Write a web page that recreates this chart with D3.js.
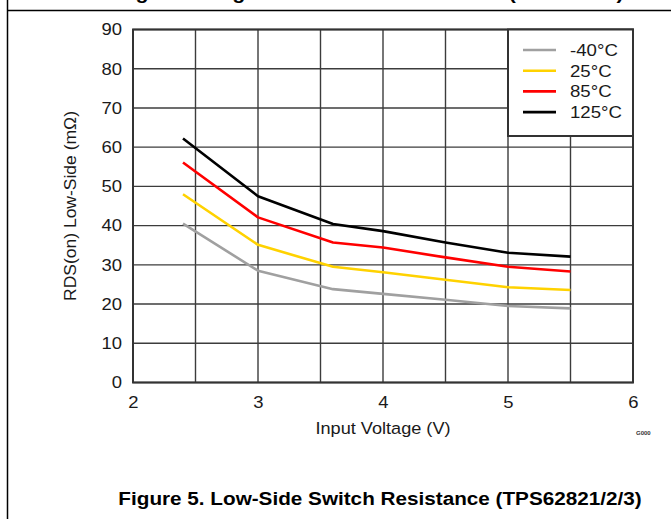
<!DOCTYPE html>
<html>
<head>
<meta charset="utf-8">
<script src="https://cdn.jsdelivr.net/npm/d3@7"></script>
<style>
  html, body { margin: 0; padding: 0; background: #fff; }
  svg { display: block; font-family: "Liberation Sans", Arial, sans-serif; }
</style>
</head>
<body>
<svg id="chart" width="671" height="519"></svg>
<script>
// Input voltage sample points (V)
const inputVoltage = [2.4, 3.0, 3.6, 4.0, 4.5, 5.0, 5.5];

// Low-side switch RDS(on) in mΩ per temperature
const rdsMinus40 = [40.5, 28.5, 23.8, 22.6, 21.1, 19.5, 18.9];
const rds25      = [48.0, 35.1, 29.5, 28.1, 26.2, 24.3, 23.6];
const rds85      = [56.1, 42.1, 35.7, 34.4, 31.9, 29.5, 28.3];
const rds125     = [62.2, 47.5, 40.4, 38.6, 35.7, 33.1, 32.1];

const seriesNames  = ["-40°C", "25°C", "85°C", "125°C"];
const seriesColors = ["#a0a0a0", "#ffd200", "#ff0000", "#000000"];
const seriesValues = [rdsMinus40, rds25, rds85, rds125];

const xTicks = [2, 3, 4, 5, 6];
const yTicks = [0, 10, 20, 30, 40, 50, 60, 70, 80, 90];
const xGrid  = [2, 2.5, 3, 3.5, 4, 4.5, 5, 5.5, 6];

const svg = d3.select("#chart");

// text helper with a slightly widened face
function label(parent, x, y, str, size, sx, anchor, extra) {
  const t = parent.append("text")
    .attr("transform", `translate(${x},${y}) scale(${sx},1)`)
    .attr("text-anchor", anchor || "start")
    .attr("font-size", size)
    .attr("fill", "#1a1a1a")
    .text(str);
  if (extra) extra(t);
  return t;
}

// page frame: left rule and rule under the previous caption
svg.append("line").attr("x1", 7.5).attr("x2", 7.5).attr("y1", 0).attr("y2", 519)
  .attr("stroke", "#000").attr("stroke-width", 1.5);
svg.append("line").attr("x1", 7.5).attr("x2", 671).attr("y1", 10.5).attr("y2", 10.5)
  .attr("stroke", "#000").attr("stroke-width", 1.5);
// previous figure caption, only its descenders fall on this page
label(svg, 370, -1.5, "Figure 4. High-Side Switch Resistance (TPS62820)", 19, 1.12, "middle",
  t => t.attr("font-weight", "bold").attr("fill", "#000"));

const plot = { left: 133, right: 633, top: 29.5, bottom: 382.5 };

const x = d3.scaleLinear().domain([2, 6]).range([plot.left, plot.right]);
const y = d3.scaleLinear().domain([0, 90]).range([plot.bottom, plot.top]);

const grid = svg.append("g");
grid.selectAll("line.v").data(xGrid).join("line")
  .attr("class", "v")
  .attr("x1", d => x(d)).attr("x2", d => x(d))
  .attr("y1", plot.top).attr("y2", plot.bottom)
  .attr("stroke", "#3c3c3c").attr("stroke-width", 1.4);
grid.selectAll("line.h").data(yTicks).join("line")
  .attr("class", "h")
  .attr("x1", plot.left).attr("x2", plot.right)
  .attr("y1", d => y(d)).attr("y2", d => y(d))
  .attr("stroke", "#3c3c3c").attr("stroke-width", 1.4);

// series lines
const line = d3.line().x(d => x(d[0])).y(d => y(d[1]));
seriesValues.forEach((vals, i) => {
  svg.append("path")
    .datum(inputVoltage.map((v, j) => [v, vals[j]]))
    .attr("d", line)
    .attr("fill", "none")
    .attr("stroke", seriesColors[i])
    .attr("stroke-width", 2.6)
    .attr("stroke-linejoin", "round");
});

// plot border
svg.append("rect")
  .attr("x", plot.left).attr("y", plot.top)
  .attr("width", plot.right - plot.left).attr("height", plot.bottom - plot.top)
  .attr("fill", "none").attr("stroke", "#333").attr("stroke-width", 2);

// axes (labels only)
const tickScale = 1.12;
const xAxis = svg.append("g").attr("transform", `translate(0,${plot.bottom})`)
  .call(d3.axisBottom(x).tickValues(xTicks).tickFormat(d3.format("d")).tickSize(0).tickPadding(14));
const yAxis = svg.append("g").attr("transform", `translate(${plot.left},0)`)
  .call(d3.axisLeft(y).tickValues(yTicks).tickFormat(d3.format("d")).tickSize(0).tickPadding(11));
[xAxis, yAxis].forEach(a => {
  a.select(".domain").remove();
  a.selectAll("text").each(function () {
    const t = d3.select(this);
    const tx = +t.attr("x") || 0;
    t.attr("x", 0).attr("transform", `translate(${tx},0) scale(${tickScale},1)`);
  }).attr("font-size", 16.5).attr("fill", "#1a1a1a")
    .attr("font-family", "'Liberation Sans', Arial, sans-serif");
});

// axis titles
label(svg, x(4), 434, "Input Voltage (V)", 16.5, 1.1, "middle");
svg.append("g")
  .attr("transform", `translate(76,${(plot.top + plot.bottom) / 2}) rotate(-90)`)
  .call(g => label(g, 0, 0, "RDS(on) Low-Side (mΩ)", 16.5, 1.06, "middle"));

svg.append("text").attr("x", 636).attr("y", 435)
  .attr("font-size", 6).attr("font-weight", "bold").attr("fill", "#333").text("G000");

// legend
const legend = svg.append("g");
legend.append("rect")
  .attr("x", 508).attr("y", plot.top)
  .attr("width", plot.right - 508).attr("height", 136 - plot.top)
  .attr("fill", "#fff").attr("stroke", "#333").attr("stroke-width", 2);
seriesNames.forEach((name, i) => {
  const ly = 50 + i * 20.7;
  legend.append("line").attr("x1", 523).attr("x2", 556).attr("y1", ly).attr("y2", ly)
    .attr("stroke", seriesColors[i]).attr("stroke-width", 2.6);
  label(legend, 570, ly + 6, name, 16.5, 1.13, "start");
});

// figure caption
label(svg, 380, 505, "Figure 5. Low-Side Switch Resistance (TPS62821/2/3)", 19, 1.09, "middle",
  t => t.attr("font-weight", "bold").attr("fill", "#000"));
</script>
</body>
</html>
